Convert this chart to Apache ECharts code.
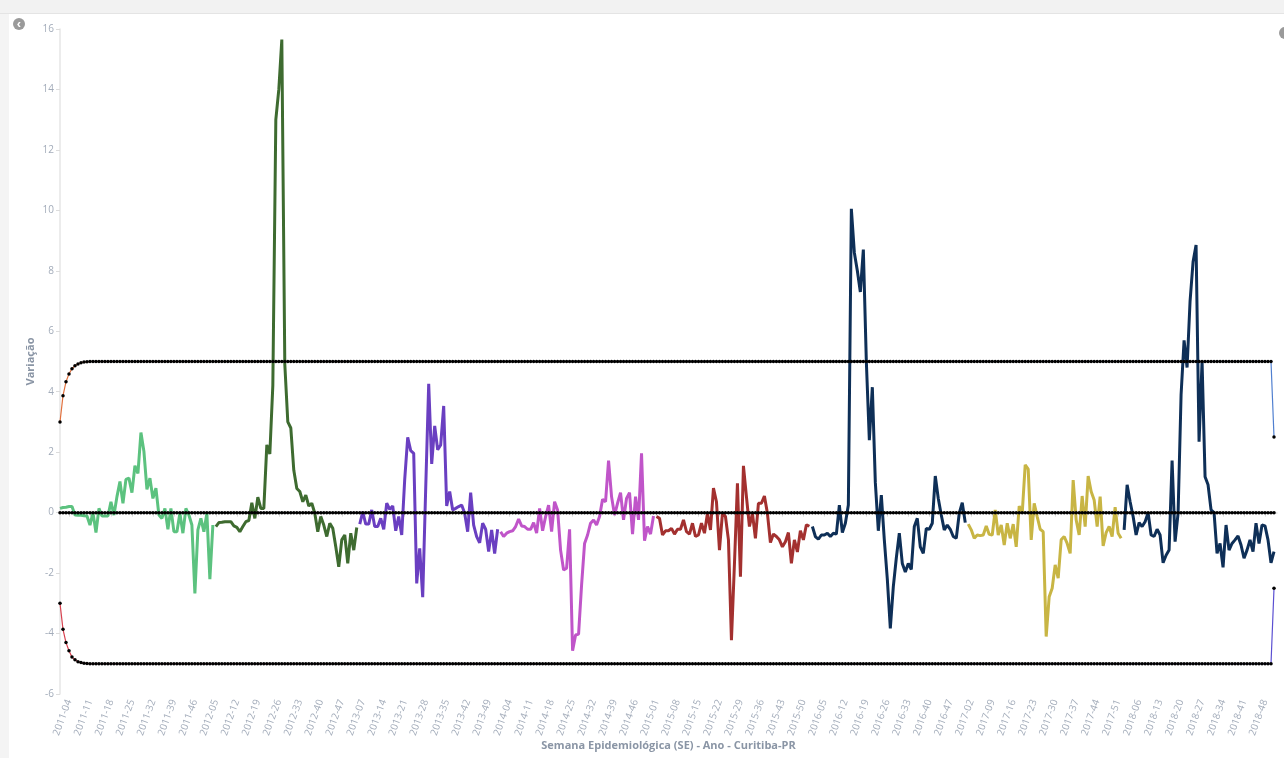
<!DOCTYPE html>
<html>
<head>
<meta charset="utf-8">
<title>Variação - Curitiba-PR</title>
<script src="https://cdn.jsdelivr.net/npm/echarts@6/dist/echarts.min.js"></script>
<style>
  html, body { margin: 0; padding: 0; background: #fff; }
  #chart { width: 1284px; height: 758px; }
</style>
</head>
<body>
<div id="chart"></div>
<script>
// semanas por ano (alguns anos começam mais tarde)
const years = [2011, 2012, 2013, 2014, 2015, 2016, 2017, 2018];
const firstWeek = [1, 5, 6, 1, 1, 1, 1, 1];
const lastWeek = 52;

const yTicks = [-6, -4, -2, 0, 2, 4, 6, 8, 10, 12, 14, 16];

// variação semanal, uma lista por ano
const v2011 = [0.14, 0.17, 0.18, 0.2, 0.2, -0.08, -0.09, -0.09, -0.1, -0.11, -0.41, 0, -0.66, 0.14, -0.11, -0.11, -0.11, 0.36, -0.08, 0.53,
  1.03, 0.31, 1.1, 1.14, 0.66, 1.55, 1.3, 2.65, 2.02, 0.77, 1.14, 0.47, 0.81, -0.08, -0.19, 0.14, -0.55, 0.14, -0.63, -0.63,
  -0.02, -0.68, 0.14, -0.08, -0.41, -2.67, -0.57, -0.19, -0.63, -0.02, -2.2, -0.41];
const v2012 = [-0.46, -0.33, -0.32, -0.3, -0.3, -0.3, -0.44, -0.49, -0.63, -0.46, -0.3, -0.26, 0.33, -0.19, 0.51, 0.14, 0.14, 2.24, 1.94, 4.2,
  13.0, 14.0, 15.65, 4.9, 3.0, 2.8, 1.4, 0.8, 0.7, 0.36, 0.58, 0.22, 0.31, -0.02, -0.63, -0.13, -0.41, -0.79, -0.35, -0.52,
  -1.13, -1.79, -0.9, -0.74, -1.68, -0.68, -1.24, -0.49];
const v2013 = [-0.38, 0.03, -0.38, -0.38, 0.09, -0.46, -0.46, -0.19, -0.55, 0.31, 0.11, 0.22, -0.6, -0.13, -0.74, 1.1, 2.49, 2.05, 1.96, -2.34,
  -1.18, -2.8, 0.8, 4.26, 1.61, 2.87, 2.08, 2.24, 3.53, 0.22, 0.7, 0.09, 0.14, 0.2, 0.25, -0.02, -0.63, 0.66, -0.41, -0.79,
  -1.0, -0.35, -0.55, -1.29, -0.57, -1.35, -0.55];
const v2014 = [-0.63, -0.79, -0.68, -0.63, -0.6, -0.46, -0.21, -0.44, -0.46, -0.55, -0.55, -0.33, -0.68, 0.14, -0.6, -0.13, 0.25, -0.63, 0.36, 0.09,
  -1.24, -1.9, -1.84, -0.55, -4.57, -4.05, -4.02, -2.4, -1.02, -0.74, -0.35, -0.24, -0.41, -0.13, 0.44, 0.36, 1.72, 0.53, -0.08, 0.31,
  0.66, -0.24, 0.47, 0.66, -0.71, 0.53, -0.24, 1.96, -0.93, -0.46, -0.71, -0.11];
const v2015 = [-0.13, -0.19, -0.74, -0.6, -0.6, -0.52, -0.71, -0.55, -0.55, -0.24, -0.63, -0.71, -0.35, -0.79, -0.74, -0.35, -0.68, -0.02, -0.57, 0.81,
  0.36, -1.24, -0.02, -0.13, -0.9, -4.22, -1.7, 0.97, -2.12, 1.55, 0.53, -0.46, -0.02, -0.85, 0.31, 0.31, 0.55, -0.02, -0.99, -0.71,
  -0.79, -0.9, -1.13, -0.96, -0.66, -1.68, -0.9, -1.3, -0.6, -0.9, -0.4, -0.45];
const v2016 = [-0.46, -0.79, -0.88, -0.74, -0.74, -0.68, -0.79, -0.68, -0.71, 0.25, -0.66, -0.35, 0.25, 10.05, 8.6, 8.0, 7.3, 8.7, 5.0, 2.4,
  4.15, 1.0, -0.6, 0.58, -0.9, -2.2, -3.83, -2.45, -1.5, -0.68, -1.68, -1.96, -1.68, -1.88, -0.46, -0.19, -1.13, -1.35, -0.52, -0.55,
  -0.35, 1.21, 0.47, -0.08, -0.57, -0.41, -0.55, -0.79, -0.85, -0.02, 0.33, -0.33];
const v2017 = [-0.38, -0.57, -0.85, -0.74, -0.76, -0.74, -0.44, -0.72, -0.74, 0.09, -0.74, -0.41, -1.07, -0.35, -0.85, -0.38, -1.13, 0.22, -0.02, 1.58,
  1.44, -0.9, 0.31, -0.13, -0.55, -0.63, -4.1, -2.78, -2.5, -1.73, -2.17, -0.9, -0.79, -1.02, -1.35, 1.08, -0.24, -0.74, 0.55, -0.46,
  1.21, 0.7, 0.42, -0.46, 0.53, -1.1, -0.66, -0.46, -0.79, 0.18, -0.68, -0.85];
const v2018 = [-0.57, 0.92, 0.36, -0.13, -0.74, -0.33, -0.46, -0.3, 0.0, -0.74, -0.79, -0.55, -0.74, -1.66, -1.41, -1.24, 1.72, -0.96, -0.02, 3.9,
  5.7, 4.8, 7.0, 8.3, 8.85, 2.35, 5.0, 1.19, 0.92, 0.09, 0.0, -1.35, -1.02, -1.81, -0.41, -1.24, -1.02, -0.9, -0.77, -1.07,
  -1.51, -1.24, -0.9, -1.29, -0.35, -1.02, -0.41, -0.44, -0.9, -1.66, -1.29];

// limites (superior, zero, inferior)
const upperHead = [3, 3.87, 4.33, 4.59, 4.76, 4.86, 4.92, 4.96, 4.98, 4.99];
const upperLevel = 5;
const upperTail = 2.5;
const lowerHead = [-3, -3.86, -4.3, -4.57, -4.78, -4.87, -4.93, -4.96, -4.98, -4.99];
const lowerLevel = -5;
const lowerTail = -2.5;
const midLevel = 0;

const yearValues = [v2011, v2012, v2013, v2014, v2015, v2016, v2017, v2018];
const yearColors = ["#5cc27f", "#3e6b30", "#6a3fc1", "#c055c9", "#a3302f", "#0e2f57", "#c8b544", "#0e2f57"];

// eixo x: "ano-semana"
let categories = [];
let offsets = [];
years.forEach(function (y, i) {
  offsets.push(categories.length);
  for (let w = firstWeek[i]; w <= lastWeek; w++) {
    categories.push(y + "-" + (w < 10 ? "0" + w : w));
  }
});

// o último ponto dos limites fica na penúltima semana
const bandLen = categories.length - 1;
function band(head, level, tail) {
  let plateau = new Array(bandLen - head.length - 1).fill(level);
  return head.concat(plateau).concat([tail]);
}

let series = [];
yearValues.forEach(function (vals, i) {
  let data = new Array(offsets[i]).fill(null).concat(vals);
  series.push({
    name: String(years[i]),
    type: "line",
    data: data,
    showSymbol: false,
    connectNulls: false,
    lineStyle: { width: 3, color: yearColors[i] },
    itemStyle: { color: yearColors[i] },
    z: 2,
  });
});

function bandSeries(name, data, lineColor) {
  return {
    name: name,
    type: "line",
    data: data,
    symbol: "circle",
    symbolSize: 3.5,
    showAllSymbol: true,
    lineStyle: { width: 1.2, color: lineColor },
    itemStyle: { color: "#000" },
    z: 5,
  };
}

series.push(bandSeries("Limite superior", band(upperHead, upperLevel, upperTail),
  new echarts.graphic.LinearGradient(0, 0, 1, 0, [
    { offset: 0, color: "#e2703c" },
    { offset: 1, color: "#4f7fd0" },
  ])));
series.push(bandSeries("Zero", new Array(bandLen).fill(midLevel), "#000"));
series.push(bandSeries("Limite inferior", band(lowerHead, lowerLevel, lowerTail),
  new echarts.graphic.LinearGradient(0, 0, 1, 0, [
    { offset: 0, color: "#d8424f" },
    { offset: 1, color: "#5a4fd2" },
  ])));

let myEchart = echarts.init(document.getElementById("chart"));
let options = {
  animation: false,
  textStyle: { fontFamily: "Open Sans" },
  grid: { left: 60, right: 7, top: 29, bottom: 64, outerBoundsMode: "none" },
  graphic: [
    { type: "rect", shape: { x: 0, y: 0, width: 1284, height: 13 }, style: { fill: "#f2f2f2" }, silent: true },
    { type: "rect", shape: { x: 0, y: 13, width: 1284, height: 1 }, style: { fill: "#e4e4e4" }, silent: true },
    { type: "rect", shape: { x: 0, y: 14, width: 9, height: 744 }, style: { fill: "#f4f4f4" }, silent: true },
    { type: "circle", shape: { cx: 19, cy: 24, r: 6 }, style: { fill: "#9a9a9a" }, silent: true },
    { type: "text", x: 19, y: 24, style: { text: "‹", fill: "#fff", fontSize: 13, fontWeight: "bold", align: "center", verticalAlign: "middle" }, silent: true },
    { type: "circle", shape: { cx: 1285, cy: 33, r: 6 }, style: { fill: "#9a9a9a" }, silent: true },
  ],
  xAxis: {
    type: "category",
    data: categories,
    boundaryGap: false,
    name: "Semana Epidemiológica (SE) - Ano - Curitiba-PR",
    nameLocation: "middle",
    nameGap: 46,
    nameMoveOverlap: false,
    nameTextStyle: { color: "#8a95a5", fontWeight: "bold", fontSize: 11 },
    axisLine: { lineStyle: { color: "#e2e2e2", width: 1.5 } },
    axisTick: {
      interval: function (index) { return index % 7 === 3; },
      length: 4,
      lineStyle: { color: "#dcdcdc" },
    },
    axisLabel: {
      interval: function (index) { return index % 7 === 3; },
      rotate: 70,
      color: "#a3acba",
      fontSize: 10,
      margin: 6,
    },
    splitLine: { show: false },
  },
  yAxis: {
    type: "value",
    min: yTicks[0],
    max: yTicks[yTicks.length - 1],
    interval: 2,
    name: "Variação",
    nameLocation: "middle",
    nameGap: 24,
    nameMoveOverlap: false,
    nameRotate: 90,
    nameTextStyle: { color: "#8a95a5", fontWeight: "bold", fontSize: 11 },
    axisLine: { show: true, lineStyle: { color: "#e6e6e6", width: 1.5 } },
    axisTick: { show: true, length: 4, lineStyle: { color: "#dcdcdc" } },
    axisLabel: { color: "#a3acba", fontSize: 10, margin: 6 },
    splitLine: { show: false },
  },
  series: series,
};
myEchart.setOption(options);
</script>
</body>
</html>
